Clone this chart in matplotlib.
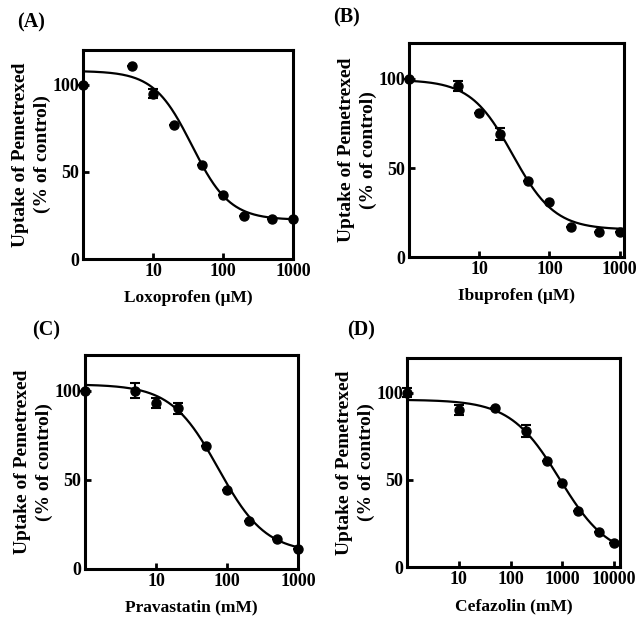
import numpy as np
import matplotlib
matplotlib.use("Agg")
import matplotlib.pyplot as plt
from matplotlib.ticker import FixedLocator, FixedFormatter, NullLocator

plt.rcParams['font.family'] = ['Liberation Serif', 'DejaVu Serif']
plt.rcParams['font.weight'] = 'bold'

# --- data ---
lox_x = [1, 5, 10, 20, 50, 100, 200, 500, 1000]
lox_y = [100, 111, 95, 77, 54, 37, 25, 23, 23]
lox_err = [0, 0, 2.5, 0, 0, 0, 0, 0, 0]
lox_fit = (108, 22.5, 36, 1.6)     # top, bottom, IC50, hill

ibu_x = [1, 5, 10, 20, 50, 100, 200, 500, 1000]
ibu_y = [100, 96, 81, 69, 43, 31, 17, 14, 14]
ibu_err = [0, 3, 0, 3.5, 0, 0, 0, 0, 0]
ibu_fit = (99.5, 15.5, 30, 1.45)

pra_x = [1, 5, 10, 20, 50, 100, 200, 500, 1000]
pra_y = [100, 100, 93, 90, 69, 44, 27, 17, 11]
pra_err = [0, 4, 3, 3, 0, 0, 0, 0, 0]
pra_fit = (103.5, 9, 75, 1.3)

cef_x = [1, 10, 50, 200, 500, 1000, 2000, 5000, 10000]
cef_y = [100, 90, 91, 78, 61, 48, 32, 20, 14]
cef_err = [2.5, 3, 0, 3.5, 0, 0, 0, 0, 0]
cef_fit = (96, 5, 884, 0.91)

panels = [
    ("(A)", lox_x, lox_y, lox_err, lox_fit, "Loxoprofen (\u03bcM)", 1000, [10, 100, 1000]),
    ("(B)", ibu_x, ibu_y, ibu_err, ibu_fit, "Ibuprofen (\u03bcM)", 1150, [10, 100, 1000]),
    ("(C)", pra_x, pra_y, pra_err, pra_fit, "Pravastatin (mM)", 1000, [10, 100, 1000]),
    ("(D)", cef_x, cef_y, cef_err, cef_fit, "Cefazolin (mM)", 13000, [10, 100, 1000, 10000]),
]

# axes rectangles in figure fraction
rects = [
    [0.1305, 0.580, 0.330, 0.339],
    [0.643, 0.583, 0.338, 0.347],
    [0.134, 0.0778, 0.335, 0.347],
    [0.640, 0.081, 0.335, 0.339],
]
label_pos = [(0.027, 0.964), (0.524, 0.972), (0.050, 0.465), (0.546, 0.465)]

fig = plt.figure(figsize=(6.36, 6.17), dpi=100)

for (tag, xs, ys, errs, fit, xlabel, xmax, xt), rect, lp in zip(panels, rects, label_pos):
    ax = fig.add_axes(rect)
    top, bottom, ic50, hill = fit
    xx = np.logspace(0, np.log10(xmax), 300)
    ax.plot(xx, bottom + (top - bottom) / (1 + (xx / ic50) ** hill), color='black', lw=1.6)
    ax.errorbar(xs, ys, yerr=errs, fmt='o', color='black', ms=6.5, capsize=3.5,
                elinewidth=1.5, capthick=1.5, clip_on=False, zorder=3)
    ax.set_xscale('log')
    ax.set_xlim(1, xmax)
    ax.set_ylim(0, 120)
    ax.xaxis.set_major_locator(FixedLocator(xt))
    ax.xaxis.set_major_formatter(FixedFormatter([str(v) for v in xt]))
    ax.xaxis.set_minor_locator(NullLocator())
    ax.set_yticks([0, 50, 100])
    ax.tick_params(direction='in', length=4, width=2, labelsize=13, pad=3)
    for lab in ax.get_xticklabels() + ax.get_yticklabels():
        lab.set_fontweight('bold')
    for sp in ax.spines.values():
        sp.set_linewidth(2.2)
    ax.set_xlabel(xlabel, fontsize=12.5, fontweight='bold', labelpad=7)
    ax.set_ylabel("Uptake of Pemetrexed\n(% of control)", fontsize=14,
                  fontweight='bold', labelpad=1, linespacing=1.35)
    fig.text(lp[0], lp[1], tag, fontsize=14.5, fontweight='bold', ha='left', va='center')

fig.savefig("out.png", dpi=100)
